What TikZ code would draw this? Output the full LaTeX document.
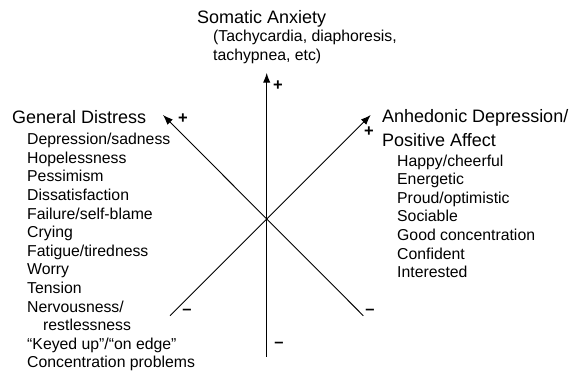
\documentclass[tikz,border=0pt]{standalone}
\usepackage{fontspec}
\setsansfont{Liberation Sans}
\usetikzlibrary{arrows.meta}
\begin{document}
\begin{tikzpicture}[
   x=1pt,y=1pt,
   font=\sffamily,
   head/.style={font=\sffamily\fontsize{18}{23.4}\selectfont,inner sep=0pt,align=left},
   items/.style={font=\sffamily\fontsize{15.8}{18.6}\selectfont,inner sep=0pt,align=left},
   sign/.style={font=\sffamily\bfseries\fontsize{16.5}{18.6}\selectfont,inner sep=0pt},
   axis/.style={-{Latex[length=10pt,width=7.5pt]},line width=0.9pt}]
\useasboundingbox (0,0) rectangle (576,372);
% axes
\coordinate (O) at (266.7,153);
\coordinate (Stop) at (266.7,299.3);
\coordinate (Sbot) at (266.7,15.3);
\coordinate (Gtop) at (163,257);
\coordinate (Gbot) at (363.3,56.3);
\coordinate (Atop) at (370.7,257);
\coordinate (Abot) at (170,56.3);
\draw[axis,line width=1.3pt] (Sbot) -- (Stop);
\draw[axis] (Gbot) -- (Gtop);
\draw[axis] (Abot) -- (Atop);
% signs
\node[sign] (Splus) at (278,286) {+};
\node[sign] (Sminus) at (279,27) {–};
\node[sign] (Gplus) at (183,253) {+};
\node[sign] (Gminus) at (370,60.3) {–};
\node[sign] (Aplus) at (369,240.3) {+};
\node[sign] (Aminus) at (187,60.3) {–};
% labels
\node[head,anchor=base west] (somatic) at (197,348.7) {Somatic Anxiety};
\node[items,anchor=north west] (somaticsub) at (213,341.8)
   {(Tachycardia, diaphoresis,\\tachypnea, etc)};
\node[head,anchor=base west] (distress) at (12,248) {General Distress};
\node[items,anchor=north west] (distresslist) at (27,238.9)
   {Depression/sadness\\Hopelessness\\Pessimism\\Dissatisfaction\\
    Failure/self-blame\\Crying\\Fatigue/tiredness\\Worry\\Tension\\
    Nervousness/\\\hspace*{16pt}restlessness\\“Keyed up”/“on edge”\\
    Concentration problems};
\node[head,anchor=north west] (anhedonic) at (382,262.4)
   {Anhedonic Depression/\\Positive Affect};
\node[items,anchor=north west] (anhedoniclist) at (397,217.5)
   {Happy/cheerful\\Energetic\\Proud/optimistic\\Sociable\\
    Good concentration\\Confident\\Interested};
\end{tikzpicture}
\end{document}
